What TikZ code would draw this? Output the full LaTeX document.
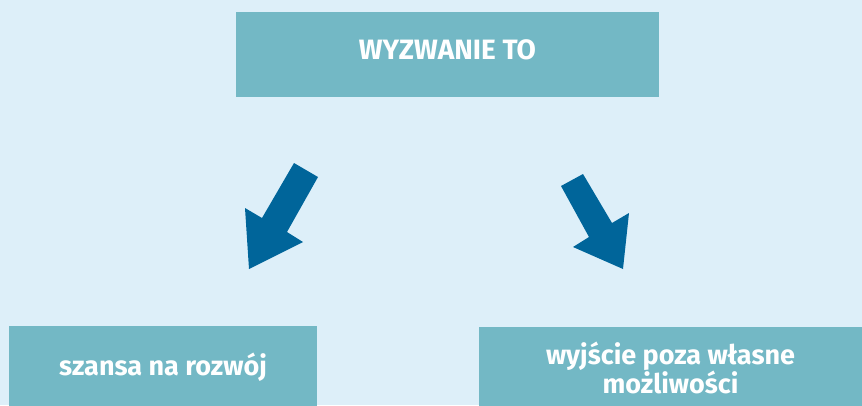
\documentclass[tikz,border=0pt]{standalone}
\usepackage{fontspec}
\setmainfont{Fira Sans}
\usetikzlibrary{positioning}
\definecolor{bgblue}{HTML}{DDEFF9}
\definecolor{boxteal}{HTML}{73B8C5}
\definecolor{arrowblue}{HTML}{00659A}
\tikzset{box/.style={fill=boxteal, text=white, inner sep=0pt, align=center,
    font=\bfseries\fontsize{27}{26}\selectfont}}

\begin{document}
\begin{tikzpicture}[x=1pt, y=-1pt]
    \fill [bgblue] (0, 0) rectangle (862, 405);
    \useasboundingbox (0, 0) rectangle (862, 405);

    \node [box, minimum width=423pt, minimum height=85pt, text depth=9pt, font=\bfseries\fontsize{28}{26}\selectfont] (challenge) at (447.5, 54.5) {WYZWANIE TO};

    \node [box, minimum width=308pt, minimum height=82pt] (chance) at (163, 367) {szansa na rozwój};
    \node [box, minimum width=383pt, minimum height=82pt] (beyond) at (670.5, 368) {wyjście poza własne\\możliwości};

    % left arrow
    \fill [arrowblue] (294, 163) -- (318, 177) -- (287, 232) -- (303, 242) -- (249, 269) -- (245, 208) -- (262, 218) -- cycle;
    % right arrow
    \fill [arrowblue] (561, 186) -- (583, 174) -- (612, 223) -- (629, 213) -- (623, 269) -- (573, 247) -- (589, 237) -- cycle;
\end{tikzpicture}
\end{document}
